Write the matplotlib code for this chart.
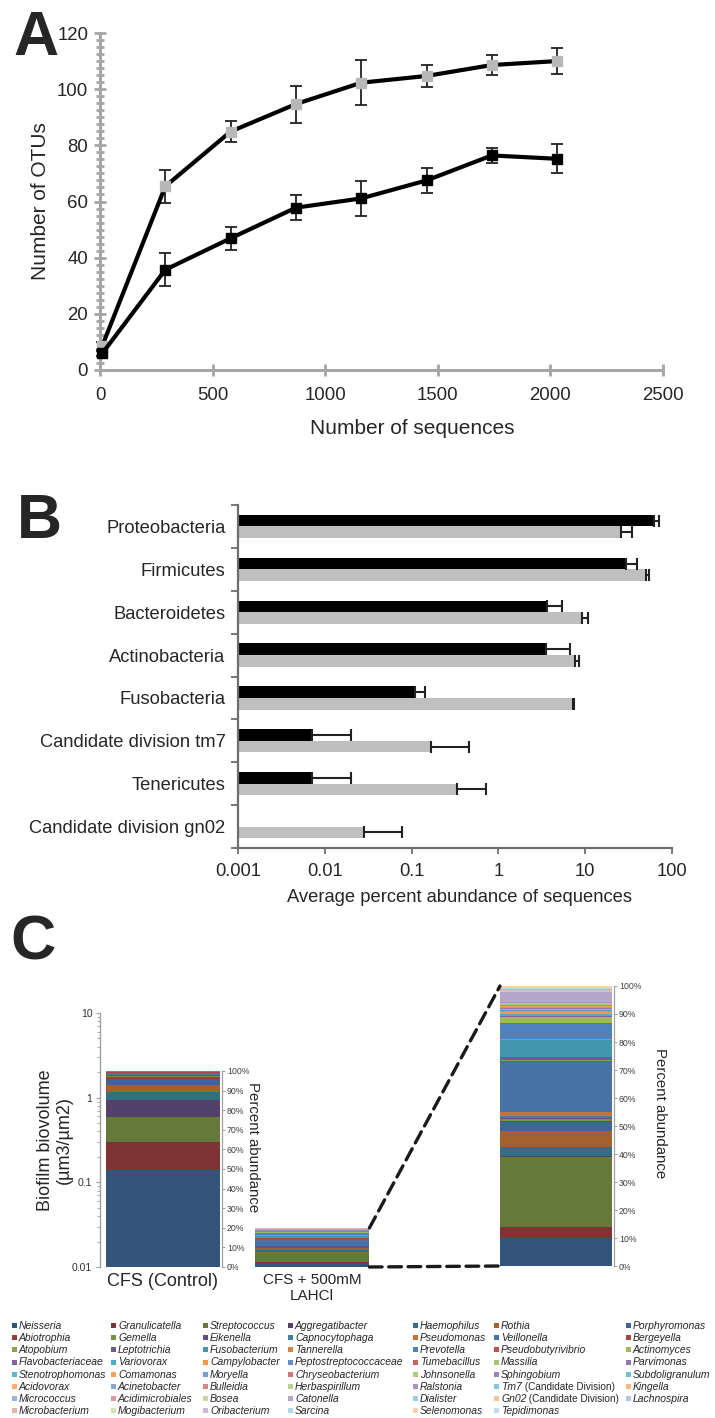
import matplotlib
matplotlib.use('Agg')
import matplotlib.pyplot as plt
import numpy as np
from matplotlib.patches import ConnectionPatch, Rectangle
from matplotlib.ticker import MultipleLocator, FixedLocator, FixedFormatter, NullLocator, FuncFormatter
from matplotlib.colors import to_rgb

plt.rcParams['font.family'] = ['Liberation Sans', 'DejaVu Sans']

# ---------------- Panel A data ----------------
seq_depth = [10, 290, 580, 870, 1160, 1450, 1740, 2030]
otus_gray = [8.6, 65.4, 84.9, 94.7, 102.3, 104.7, 108.6, 110.0]
otus_gray_err = [1.5, 5.8, 3.8, 6.6, 8.0, 4.0, 3.4, 4.7]
otus_black = [5.9, 35.7, 46.9, 57.8, 61.1, 67.5, 76.4, 75.2]
otus_black_err = [1.0, 5.8, 4.0, 4.5, 6.2, 4.4, 2.7, 5.2]

# ---------------- Panel B data ----------------
phyla = ['Proteobacteria', 'Firmicutes', 'Bacteroidetes', 'Actinobacteria',
         'Fusobacteria', 'Candidate division tm7', 'Tenericutes',
         'Candidate division gn02']
abund_black = [62.7, 29.5, 3.65, 3.5, 0.110, 0.00716, 0.00716, np.nan]
abund_black_err = [7.9, 10.5, 1.8, 3.2, 0.034, 0.0127, 0.0127, np.nan]
abund_gray = [26.1, 49.7, 9.3, 7.6, 7.3, 0.169, 0.337, 0.0283]
abund_gray_err = [8.4, 4.3, 1.4, 0.9, 0.2, 0.293, 0.388, 0.0491]
b_ticks = [0.001, 0.01, 0.1, 1, 10, 100]
b_ticklabels = ['0.001', '0.01', '0.1', '1', '10', '100']

# ---------------- Panel C data ----------------
conditions = ['CFS (Control)', 'CFS + 500mM\nLAHCl']
biovolume = [2.07, 0.0289]
genera = ['Neisseria', 'Granulicatella', 'Streptococcus', 'Aggregatibacter', 'Haemophilus', 'Rothia', 'Porphyromonas',
          'Abiotrophia', 'Gemella', 'Eikenella', 'Capnocytophaga', 'Pseudomonas', 'Veillonella', 'Bergeyella',
          'Atopobium', 'Leptotrichia', 'Fusobacterium', 'Tannerella', 'Prevotella', 'Pseudobutyrivibrio', 'Actinomyces',
          'Flavobacteriaceae', 'Variovorax', 'Campylobacter', 'Peptostreptococcaceae', 'Tumebacillus', 'Massilia', 'Parvimonas',
          'Stenotrophomonas', 'Comamonas', 'Moryella', 'Chryseobacterium', 'Johnsonella', 'Sphingobium', 'Subdoligranulum',
          'Acidovorax', 'Acinetobacter', 'Bulleidia', 'Herbaspirillum', 'Ralstonia', 'Tm7 (Candidate Division)', 'Kingella',
          'Micrococcus', 'Acidimicrobiales', 'Bosea', 'Catonella', 'Dialister', 'Gn02 (Candidate Division)', 'Lachnospira',
          'Microbacterium', 'Mogibacterium', 'Oribacterium', 'Sarcina', 'Selenomonas', 'Tepidimonas']
pct_control = [49.5, 14.3, 12.7, 8.7, 4.1, 3.6, 3.0,
               1.0, 0.5, 0.4, 0.5, 0.3, 0.4, 0.2,
               0.2, 0.2, 0.2, 0.1, 0.1, 0, 0,
               0, 0, 0, 0, 0, 0, 0,
               0, 0, 0, 0, 0, 0, 0,
               0, 0, 0, 0, 0, 0, 0,
               0, 0, 0, 0, 0, 0, 0,
               0, 0, 0, 0, 0, 0]
pct_lahcl = [10.0, 3.9, 25.0, 0.3, 3.3, 5.7, 3.2,
             0.3, 0.7, 0.3, 0.7, 1.6, 17.9, 0.4,
             0.3, 1.0, 6.1, 0.5, 5.3, 0.3, 2.2,
             0.3, 0.6, 1.0, 0.4, 0.2, 0.4, 0.3,
             0.3, 0.2, 0.2, 0.2, 0.3, 0.2, 0.1,
             0.1, 0.1, 0.1, 0.1, 0.1, 0.1, 0.1,
             0.1, 0.1, 0.1, 3.0, 0.2, 0.2, 0.2,
             0.6, 0.1, 0.1, 0.1, 0.7, 0.1]

# ---------------- styling ----------------
accents = ['#4F81BD', '#C0504D', '#9BBB59', '#8064A2', '#4BACC6', '#F79646']
shade = [('dark', 0.65), ('dark', 0.78), ('dark', 0.88), ('dark', 1.0), ('light', 0.12),
         ('light', 0.22), ('light', 0.32), ('light', 0.42), ('light', 0.56), ('light', 0.7)]


def genus_color(i):
    base = np.array(to_rgb(accents[i % 6]))
    kind, f = shade[i // 6]
    if kind == 'dark':
        return tuple(base * f)
    return tuple(base + (1 - base) * f)


colors = [genus_color(i) for i in range(len(genera))]
TXT = '#262626'
W, H = 715, 1418
fig = plt.figure(figsize=(W / 100, H / 100), dpi=100)


def px_axes(l, t, r, b):
    return fig.add_axes([l / W, 1 - b / H, (r - l) / W, (b - t) / H])


# ================= Panel A =================
axA = px_axes(100, 33, 663, 370)
gray_ax = '#a6a6a6'
axA.errorbar(seq_depth, otus_gray, yerr=otus_gray_err, color='black', lw=3, marker='s', ms=7.5,
             mfc='#b8b8b8', mec='#b8b8b8', ecolor='#222222', elinewidth=1.3, capsize=4.5,
             capthick=1.3, clip_on=False, zorder=3)
axA.errorbar(seq_depth, otus_black, yerr=otus_black_err, color='black', lw=3, marker='s', ms=7.5,
             mfc='black', mec='black', ecolor='#222222', elinewidth=1.3, capsize=4.5,
             capthick=1.3, clip_on=False, zorder=4)
axA.set_xlim(0, 2500)
axA.set_ylim(0, 120)
for s in ['top', 'right']:
    axA.spines[s].set_visible(False)
for s in ['left', 'bottom']:
    axA.spines[s].set_color(gray_ax)
    axA.spines[s].set_linewidth(2.2)
axA.xaxis.set_major_locator(MultipleLocator(500))
axA.yaxis.set_major_locator(MultipleLocator(20))
axA.yaxis.set_minor_locator(MultipleLocator(2.5))
axA.tick_params(axis='both', which='major', direction='inout', length=9, width=2, color=gray_ax,
                labelsize=13.4, labelcolor=TXT)
axA.tick_params(axis='x', pad=8)
axA.tick_params(axis='y', pad=4)
axA.tick_params(axis='y', which='minor', direction='inout', length=6, width=2, color=gray_ax)
axA.set_xlabel('Number of sequences', fontsize=15, color=TXT, va='center')
axA.xaxis.set_label_coords(0.554, (370 - 428) / 337)
axA.set_ylabel('Number of OTUs', fontsize=15, color=TXT, va='center')
axA.yaxis.set_label_coords((40 - 100) / 563, 0.5)

# ================= Panel B =================
axB = px_axes(238, 505, 672, 848)
axB.set_xscale('log')
b_base = b_ticks[0]
yb = np.arange(len(phyla))
bh = 0.27
ab = np.array(abund_black)
ag = np.array(abund_gray)
mb = ~np.isnan(ab)
axB.barh(yb[mb] - bh / 2, ab[mb] - b_base, left=b_base, height=bh, color='black',
         xerr=[np.zeros(mb.sum()), np.array(abund_black_err)[mb]],
         error_kw=dict(ecolor='#222222', elinewidth=1.5, capsize=4.5, capthick=1.5))
axB.barh(yb + bh / 2, ag - b_base, left=b_base, height=bh, color='#bfbfbf',
         xerr=[np.zeros(len(ag)), np.array(abund_gray_err)],
         error_kw=dict(ecolor='#222222', elinewidth=1.5, capsize=4.5, capthick=1.5))
axB.set_xlim(b_ticks[0], b_ticks[-1])
axB.set_ylim(len(phyla) - 0.5, -0.5)
axB.xaxis.set_major_locator(FixedLocator(b_ticks))
axB.xaxis.set_major_formatter(FixedFormatter(b_ticklabels))
axB.xaxis.set_minor_locator(NullLocator())
axB.set_yticks(yb)
axB.set_yticklabels(phyla)
axB.set_yticks(np.arange(-0.5, len(phyla), 1), minor=True)
for s in ['top', 'right']:
    axB.spines[s].set_visible(False)
for s in ['left', 'bottom']:
    axB.spines[s].set_color('#6e6e6e')
    axB.spines[s].set_linewidth(1.6)
axB.tick_params(axis='y', which='major', length=0, pad=9, labelsize=13.2, labelcolor=TXT)
axB.tick_params(axis='y', which='minor', length=5, width=1.3, color='#6e6e6e')
axB.tick_params(axis='x', which='major', length=4, width=1.3, color='#6e6e6e', pad=7,
                labelsize=13.2, labelcolor=TXT)
axB.set_xlabel('Average percent abundance of sequences', fontsize=13.2, color=TXT, va='center')
axB.xaxis.set_label_coords(0.51, (848 - 898) / 343)

# ================= Panel C =================
axC = px_axes(100, 1013, 375, 1267)
axC.set_yscale('log')
c_base = 0.01
axC.set_ylim(c_base, 10)
cond_pos = np.arange(len(conditions))
axC.set_xlim(-0.42, 1.42)
rects = axC.bar(cond_pos, np.array(biovolume) - c_base, bottom=c_base, width=0.765,
                color='none', edgecolor='none')
for s in ['top', 'right', 'bottom']:
    axC.spines[s].set_visible(False)
axC.spines['left'].set_color('#a0a0a0')
axC.spines['left'].set_linewidth(1.0)
axC.yaxis.set_major_locator(FixedLocator([0.01, 0.1, 1, 10]))
axC.yaxis.set_major_formatter(FuncFormatter(lambda v, p: {0.01: '0.01', 0.1: '0.1', 1: '1', 10: '10'}.get(round(v, 4), '')))
axC.tick_params(axis='y', which='major', length=3, width=0.8, color='#a0a0a0', pad=2.5,
                labelsize=7.5, labelcolor='#333333')
axC.tick_params(axis='y', which='minor', length=2, width=0.6, color='#a0a0a0')
axC.set_xticks(cond_pos)
axC.set_xticklabels(conditions)
axC.tick_params(axis='x', length=0, pad=4, labelcolor=TXT)
xl = axC.get_xticklabels()
xl[0].set_fontsize(13)
xl[1].set_fontsize(11)
xl[1].set_linespacing(1.25)
axC.set_ylabel('Biofilm biovolume\n(µm3/µm2)', fontsize=13, color=TXT, va='center', linespacing=1.1)
axC.yaxis.set_label_coords((55 - 100) / 275, 0.5)


def stack(ax, pct):
    pct = np.array(pct, dtype=float)
    cum = np.concatenate([[0], np.cumsum(pct)[:-1]])
    ax.bar(np.zeros(len(pct)), pct, bottom=cum, width=1.0, color=colors, edgecolor='none')
    ax.set_xlim(-0.5, 0.5)
    ax.set_ylim(0, 100)
    ax.set_xticks([])
    for s in ['top', 'left', 'bottom', 'right']:
        ax.spines[s].set_visible(False)
    ax.patch.set_alpha(0)


def pct_axis(ax, lab_xy):
    ax.spines['right'].set_visible(True)
    ax.spines['right'].set_color('#a0a0a0')
    ax.spines['right'].set_linewidth(0.9)
    ax.spines['right'].set_position(('outward', 1.5))
    ax.yaxis.set_major_locator(MultipleLocator(10))
    ax.yaxis.set_major_formatter(FuncFormatter(lambda v, p: f'{int(round(v))}%'))
    ax.yaxis.tick_right()
    ax.tick_params(axis='y', length=2, width=0.7, color='#a0a0a0', pad=1.5,
                   labelsize=6.3, labelcolor='#404040')
    ax.yaxis.set_label_position('right')
    ax.set_ylabel('Percent abundance', rotation=270, fontsize=10.8, color=TXT, ha='center', va='center')
    ax.yaxis.set_label_coords(*lab_xy)


fig_inv = fig.transFigure.inverted()
b1 = rects[0].get_window_extent().transformed(fig_inv)
axP1 = fig.add_axes(b1.bounds)
stack(axP1, pct_control)
pct_axis(axP1, (1.29, 0.61))

b2 = rects[1].get_window_extent().transformed(fig_inv)
axP2 = fig.add_axes(b2.bounds)
stack(axP2, pct_lahcl)
axP2.set_yticks([])

axP3 = px_axes(500, 986, 612, 1266)
stack(axP3, pct_lahcl)
pct_axis(axP3, (1.43, 0.546))

for ya, yb_ in [(1, 1), (0, 0)]:
    con = ConnectionPatch(xyA=(1, ya), coordsA=axP2.transAxes, xyB=(0, yb_), coordsB=axP3.transAxes,
                          color='#1a1a1a', lw=2.4, linestyle=(0, (3.8, 2.0)))
    fig.add_artist(con)

# ---------------- legend (row-major, 7 columns, like the original) ----------------
ncol = 7
leg_cols_px = [12, 111, 203, 288, 413, 494, 626]
leg_row0_px = 1326
leg_pitch_px = 12.14
leg_fs = 7.5
renderer = fig.canvas.get_renderer()
for i, g in enumerate(genera):
    r, c = divmod(i, ncol)
    x0 = leg_cols_px[c]
    yc = leg_row0_px + r * leg_pitch_px
    fig.add_artist(Rectangle((x0 / W, 1 - (yc + 2.2) / H), 5 / W, 5 / H, transform=fig.transFigure,
                             facecolor=colors[i], edgecolor='none'))
    if '(' in g:
        name, rest = g.split(' ', 1)
        t = fig.text((x0 + 7) / W, 1 - yc / H, name, style='italic', fontsize=leg_fs, color=TXT,
                     ha='left', va='center')
        x1 = t.get_window_extent(renderer).x1
        fig.text(x1 / W, 1 - yc / H, ' ' + rest, fontsize=leg_fs - 0.3, color=TXT, ha='left', va='center')
    else:
        fig.text((x0 + 7) / W, 1 - yc / H, g, style='italic', fontsize=leg_fs, color=TXT,
                 ha='left', va='center')

# panel letters
for letter, x, yb_px in [('A', 13, 55), ('B', 17, 538), ('C', 10, 959)]:
    fig.text(x / W, 1 - yb_px / H, letter, fontsize=45, fontweight='bold', color=TXT,
             ha='left', va='baseline')

fig.savefig('out.png', dpi=100)
